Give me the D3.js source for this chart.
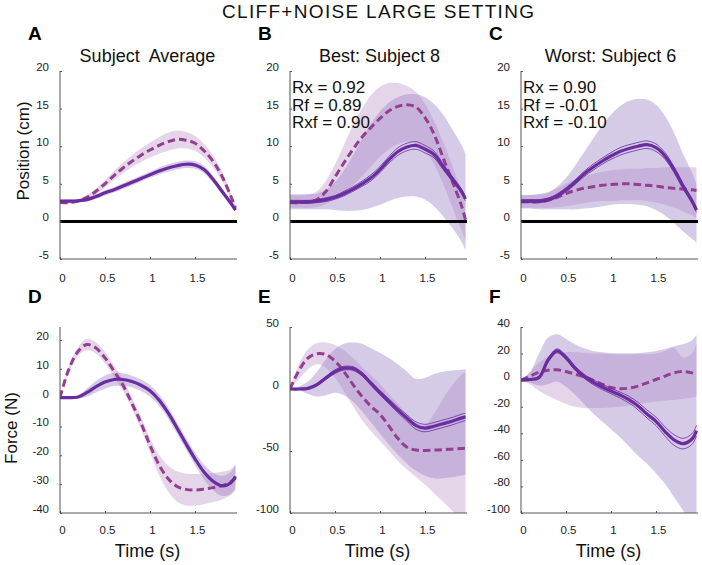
<!DOCTYPE html>
<html><head><meta charset="utf-8">
<script src="https://cdn.jsdelivr.net/npm/d3@7"></script>
<style>body{margin:0;background:#fff}svg{display:block}text{font-family:"Liberation Sans",Arial,sans-serif}</style>
</head><body><svg id="c" width="702" height="565"></svg>
<script>
// ---- data ----
const T = [0,0.1,0.2,0.3,0.4,0.5,0.6,0.7,0.8,0.9,1.0,1.1,1.2,1.3,1.4,1.5,1.6,1.7,1.8,1.9,1.95];
const xTicks = [0,0.5,1,1.5];
const posTicks = [-5,0,5,10,15,20];
const dTicks = [-40,-30,-20,-10,0,10,20];
const eTicks = [-100,-50,0,50];
const fTicks = [-100,-80,-60,-40,-20,0,20,40];

// Panel A
const aSolid   = [2.7,2.7,2.75,2.9,3.3,3.8,4.2,4.7,5.2,5.7,6.2,6.7,7.1,7.4,7.6,7.5,6.9,5.6,4.0,2.4,1.5];
const aSolidSd = [0.2,0.2,0.2,0.25,0.3,0.35,0.35,0.4,0.4,0.4,0.4,0.45,0.5,0.5,0.5,0.5,0.5,0.45,0.4,0.35,0.3];
const aDash    = [2.5,2.5,2.7,3.2,4.0,5.0,6.1,7.1,8.0,8.8,9.5,10.1,10.6,10.9,10.8,10.4,9.4,8.0,6.0,3.3,1.8];
const aDashSd  = [0.2,0.2,0.2,0.3,0.4,0.5,0.6,0.7,0.8,0.9,1.0,1.1,1.2,1.2,1.1,1.0,0.9,0.8,0.6,0.4,0.3];
// Panel B
const bSolid   = [2.6,2.6,2.6,2.7,2.9,3.2,3.7,4.3,5.0,5.8,6.9,8.2,9.3,9.9,10.1,9.6,8.9,7.3,5.7,4.1,3.0];
const bInner   = [0.2,0.2,0.2,0.2,0.25,0.25,0.3,0.3,0.35,0.4,0.4,0.45,0.5,0.5,0.5,0.5,0.45,0.4,0.35,0.3,0.3];
const bBlueHi  = [3.6,3.6,3.6,3.7,4.2,5.2,6.8,8.8,11.0,13.0,14.6,15.8,16.5,16.9,16.9,16.5,15.6,14.2,12.3,10.3,9.0];
const bBlueLo  = [1.6,1.6,1.6,1.6,1.6,1.5,1.4,1.4,1.5,1.8,2.2,2.7,3.1,3.3,3.3,2.9,2.0,0.7,-0.8,-2.6,-3.8];
const bDash    = [2.5,2.5,2.6,2.9,4.0,5.9,7.8,9.6,11.2,12.5,13.7,14.7,15.3,15.5,15.2,13.8,11.6,8.5,5.4,2.3,0.2];
const bPinkHi  = [3.5,3.5,3.6,4.0,5.4,7.6,10.2,12.8,15.0,16.8,17.9,18.4,18.4,18.0,17.2,15.6,13.4,10.6,7.5,4.3,2.5];
const bPinkLo  = [1.8,1.8,1.8,1.9,2.3,3.0,3.8,4.8,6.0,7.3,8.6,9.6,10.3,10.6,10.4,9.4,7.6,5.0,2.0,-1.0,-2.5];
// Panel C
const cSolid   = [2.7,2.7,2.7,2.9,3.4,4.2,5.2,6.3,7.2,8.0,8.7,9.3,9.7,10.0,10.2,9.8,8.7,6.9,4.7,2.7,1.5];
const cInner   = [0.2,0.2,0.2,0.2,0.25,0.3,0.3,0.35,0.4,0.4,0.45,0.5,0.5,0.5,0.5,0.5,0.45,0.4,0.35,0.3,0.3];
const cBlueHi  = [3.5,3.5,3.6,3.8,4.6,5.8,7.4,9.2,11.0,12.7,14.2,15.3,16.0,16.3,16.2,15.5,14.0,11.8,9.0,6.5,5.0];
const cBlueLo  = [1.7,1.7,1.6,1.6,1.6,1.6,1.6,1.7,1.8,2.0,2.2,2.3,2.3,2.2,2.0,1.5,0.8,-0.2,-1.3,-2.3,-2.8];
const cDash    = [2.6,2.6,2.6,2.8,3.2,3.7,4.1,4.4,4.6,4.8,4.9,5.0,5.0,4.9,4.8,4.7,4.5,4.4,4.3,4.2,4.1];
const cPinkHi  = [3.5,3.5,3.6,3.9,4.4,5.0,5.6,6.0,6.3,6.6,6.8,6.9,7.0,7.0,7.1,7.1,7.2,7.2,7.2,7.2,7.2];
const cPinkLo  = [1.8,1.8,1.8,1.8,1.9,2.0,2.2,2.4,2.6,2.7,2.7,2.8,2.8,2.8,2.7,2.5,2.2,1.8,1.3,0.8,0.5];
// Panel D
const dSolid   = [0,0,0.2,1.8,3.8,5.4,6.3,6.3,5.6,4.3,2.4,-0.8,-5.2,-10.5,-16.0,-21.2,-25.8,-29.0,-30.6,-29.5,-27.3];
const dSolidSd = [0,0,0.5,1.5,2.0,2.3,2.3,2.2,2.0,2.0,2.0,2.0,2.0,2.0,2.0,2.2,2.5,3.0,3.5,3.8,4.0];
const dDash    = [0,10,16,18.4,17.2,13.8,9.2,4.3,-2.0,-8.8,-16.5,-23.3,-28.0,-30.8,-31.8,-32.0,-31.7,-31.2,-30.5,-29.2,-27.6];
const dDashSd  = [0,1.0,1.5,2.0,2.0,2.0,2.0,2.0,2.0,2.2,2.5,3.5,4.5,5.3,5.5,5.5,5.3,5.0,4.8,4.5,4.5];
// Panel E
const eSolid   = [0,0,0.5,3.5,9,14,16.8,16.5,12,4.5,-3,-10,-17,-23.5,-29.5,-31.5,-30,-28,-26,-23.5,-22.5];
const eInner   = [0.5,0.5,0.8,1,1.2,1.5,1.5,1.5,1.5,1.5,1.8,2,2.2,2.5,3,3,3,3,3,3,3];
const eBlueHi  = [0,2,6,14,24,32,36.5,37.5,36.5,33,29,25,20,14,8,9,12,14,15,15.5,16];
const eBlueLo  = [0,-1,-4,-6,-5,-3,-5,-10,-18,-27,-36,-45,-53,-60,-66,-70,-72,-72,-71,-70,-69];
const eDash    = [0,15,25,28.5,27.8,22.5,14,3.5,-6,-14,-20.5,-30,-40,-47,-49.2,-49.5,-49.3,-49,-48.5,-48,-47.8];
const ePinkHi  = [0,20,32,37,37.5,35.5,31,25,18,11,4,-4,-12,-20,-27,-29,-20,-8,3,11,14];
const ePinkLo  = [0,8,16,20,17,9,-2,-14,-25,-34,-42,-50,-58,-65,-71,-77,-84,-91,-98,-104,-107];
// Panel F
const fSolid   = [0,0.5,2,15,22,17,9,3,-1.5,-5,-8.2,-11.2,-14.7,-19.5,-25.5,-31,-38.7,-45,-47.8,-44.3,-38];
const fInner   = [0.5,0.5,1,1.5,1.5,1.5,1.5,1.5,1.8,2,2,2.2,2.5,2.8,3,3.2,3.5,4,4,4,4];
const fBlueHi  = [0,6,20,32,34.5,31,27,24,22,21,20.5,20.3,20.3,20.5,21,22,23.5,25.5,27,30,34];
const fBlueLo  = [0,-2,-4,-3,-1,-5,-11,-18,-25,-31,-37,-43,-50,-57,-63,-70,-78,-88,-98,-108,-114];
const fDash    = [0,3,6,7.5,7.8,6.5,4.5,2.5,0,-3,-5.5,-6.5,-6,-4.5,-2,0.5,3,5.5,6.5,5.5,4];
const fPinkHi  = [0,6,13,18,20,21,21,20.5,20,20,19.5,19.5,19.5,19.5,19.5,20,22,24,17,20,28];
const fPinkLo  = [0,-3,-8,-12,-15,-18,-20,-21,-21,-21,-20.5,-20,-19,-18,-17,-16,-15.5,-15,-14,-13,-12.5];

const titles = ["Subject  Average","Best: Subject 8","Worst: Subject 6"];
const letters = ["A","B","C","D","E","F"];
const stats = {B:["Rx = 0.92","Rf = 0.89","Rxf = 0.90"], C:["Rx = 0.90","Rf = -0.01","Rxf = -0.10"]};

// ---- layout ----
const svg = d3.select("#c");
const colX = [60,290,521];
const plotW = 177;
const rows = [{top:71,bot:259},{top:327,bot:513}];

const COL_SOLID = "#6a2c9e", COL_DASH = "#933f90";
const COL_BLUE = "#9a84c6", COL_PINK = "#c29ccb";

const sub = (a,b)=>a.map((v,i)=>v-b[i]);
const add = (a,b)=>a.map((v,i)=>v+b[i]);

const panels = [
 {id:"A",col:0,row:0,dom:[-5,20],ticks:posTicks,
  pink:[sub(aDash,aDashSd),add(aDash,aDashSd)], blue:[sub(aSolid,aSolidSd),add(aSolid,aSolidSd)],
  dash:aDash, solid:aSolid, inner:null, zero:true},
 {id:"B",col:1,row:0,dom:[-5,20],ticks:posTicks,
  pink:[bPinkLo,bPinkHi], blue:[bBlueLo,bBlueHi], dash:bDash, solid:bSolid, inner:bInner, zero:true},
 {id:"C",col:2,row:0,dom:[-5,20],ticks:posTicks,
  pink:[cPinkLo,cPinkHi], blue:[cBlueLo,cBlueHi], dash:cDash, solid:cSolid, inner:cInner, zero:true},
 {id:"D",col:0,row:1,dom:[-40,24.5],ticks:dTicks,
  pink:[sub(dDash,dDashSd),add(dDash,dDashSd)], blue:[sub(dSolid,dSolidSd),add(dSolid,dSolidSd)],
  dash:dDash, solid:dSolid, inner:null, zero:false},
 {id:"E",col:1,row:1,dom:[-100,50],ticks:eTicks,
  pink:[ePinkLo,ePinkHi], blue:[eBlueLo,eBlueHi], dash:eDash, solid:eSolid, inner:eInner, zero:false},
 {id:"F",col:2,row:1,dom:[-100,40],ticks:fTicks,
  pink:[fPinkLo,fPinkHi], blue:[fBlueLo,fBlueHi], dash:fDash, solid:fSolid, inner:fInner, zero:false}
];

svg.append("text").attr("x",378).attr("y",18).attr("text-anchor","middle")
  .attr("font-size",19).attr("fill","#111")
  .attr("textLength",312).attr("lengthAdjust","spacing").text("CLIFF+NOISE LARGE SETTING");

const curve = d3.curveCatmullRom.alpha(0.5);
const fmt = d=>String(d);

panels.forEach((p,pi)=>{
  const x0 = colX[p.col], r = rows[p.row];
  const x = d3.scaleLinear().domain([0,plotW/90]).range([x0,x0+plotW]);
  const y = d3.scaleLinear().domain(p.dom).range([r.bot,r.top]);
  const g = svg.append("g");
  const cid = "clip"+p.id;
  svg.append("clipPath").attr("id",cid).append("rect")
    .attr("x",x0).attr("y",r.top).attr("width",plotW).attr("height",r.bot-r.top);
  const pg = g.append("g").attr("clip-path",`url(#${cid})`);
  const area = (lo,hi)=>d3.area().curve(curve).x((d,i)=>x(T[i])).y0((d,i)=>y(lo[i])).y1((d,i)=>y(hi[i]))(T);
  const line = arr=>d3.line().curve(curve).x((d,i)=>x(T[i])).y((d,i)=>y(arr[i]))(T);

  pg.append("path").attr("d",area(p.pink[0],p.pink[1])).attr("fill",COL_PINK).attr("fill-opacity",0.42);
  pg.append("path").attr("d",area(p.blue[0],p.blue[1])).attr("fill",COL_BLUE).attr("fill-opacity",0.42);
  if(p.zero){
    pg.append("line").attr("x1",x0).attr("x2",x0+plotW).attr("y1",y(0)).attr("y2",y(0))
      .attr("stroke","#000").attr("stroke-width",3);
  }
  pg.append("path").attr("d",line(p.dash)).attr("fill","none").attr("stroke",COL_DASH)
    .attr("stroke-width",3).attr("stroke-dasharray","7.5,4");
  if(p.inner){
    pg.append("path").attr("d",line(add(p.solid,p.inner))).attr("fill","none").attr("stroke",COL_SOLID).attr("stroke-width",0.8);
    pg.append("path").attr("d",line(sub(p.solid,p.inner))).attr("fill","none").attr("stroke",COL_SOLID).attr("stroke-width",0.8);
  }
  pg.append("path").attr("d",line(p.solid)).attr("fill","none").attr("stroke",COL_SOLID).attr("stroke-width",3.2);

  // axes
  const ax = g.append("g").attr("transform",`translate(0,${r.bot})`)
    .call(d3.axisBottom(x).tickValues(xTicks).tickSize(-2).tickPadding(p.row===0?15:13).tickFormat(fmt));
  const ay = g.append("g").attr("transform",`translate(${x0},0)`)
    .call(d3.axisLeft(y).tickValues(p.ticks).tickSize(-2).tickPadding(11).tickFormat(fmt));
  [ax,ay].forEach(a=>{
    a.select(".domain").attr("stroke","#555").attr("d", a===ax ? `M${x0},0H${x0+plotW}` : `M0,${r.top}V${r.bot}`);
    a.selectAll(".tick line").attr("stroke","#555");
    a.selectAll(".tick text").attr("font-size",11.5).attr("fill","#222")
      .attr("font-family",'"Liberation Sans",Arial,sans-serif');
  });
  ax.selectAll(".tick text").attr("dx",2);
  ay.selectAll(".tick text").attr("dy","-0.05em");

  // letter
  svg.append("text").attr("x",x0-32).attr("y",p.row===0?40:303).attr("font-size",19).attr("font-weight","bold")
    .attr("fill","#000").text(letters[pi]);
  if(p.row===0){
    svg.append("text").attr("x",x0+plotW/2+(p.col===0?-1:1)).attr("y",62).attr("text-anchor","middle")
      .attr("font-size",18).attr("fill","#111").style("white-space","pre").text(titles[p.col]);
  } else {
    svg.append("text").attr("x",x0+plotW/2-1).attr("y",557).attr("text-anchor","middle")
      .attr("font-size",18).attr("fill","#111").text("Time (s)");
  }
  if(stats[p.id]){
    const st = svg.append("text").attr("x",x0+2).attr("y",93).attr("font-size",17).attr("fill","#111");
    stats[p.id].forEach((s,k)=>{
      st.append("tspan").attr("x",x0+2).attr("dy",k===0?0:17.5).text(s);
    });
  }
});

svg.append("text").attr("transform","translate(29,151) rotate(-90)").attr("text-anchor","middle")
  .attr("font-size",17).attr("fill","#111").text("Position (cm)");
svg.append("text").attr("transform","translate(17,428) rotate(-90)").attr("text-anchor","middle")
  .attr("font-size",17).attr("fill","#111").text("Force (N)");
</script></body></html>
